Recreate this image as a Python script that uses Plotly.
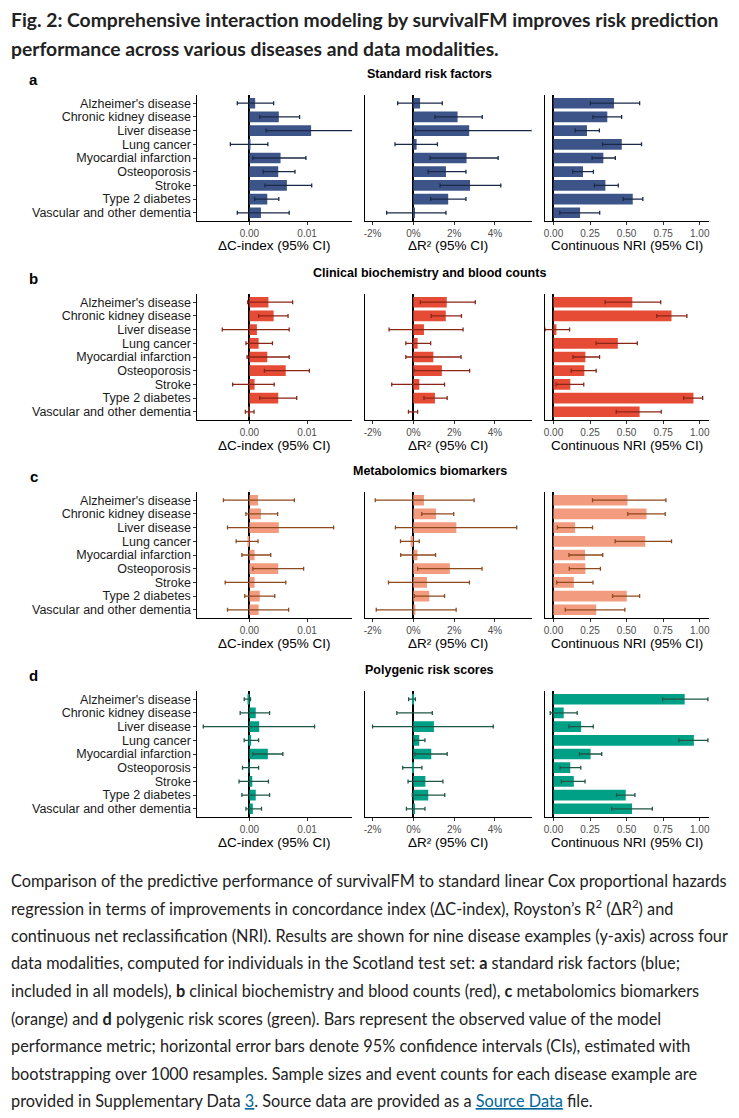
import plotly.graph_objects as go

W, H = 739, 1118
OFF = 8  # page body margin in the browser

diseases = ["Alzheimer's disease", "Chronic kidney disease", "Liver disease", "Lung cancer",
            "Myocardial infarction", "Osteoporosis", "Stroke", "Type 2 diabetes",
            "Vascular and other dementia"]

panel_letters = ["a", "b", "c", "d"]
panel_titles = ["Standard risk factors", "Clinical biochemistry and blood counts",
                "Metabolomics biomarkers", "Polygenic risk scores"]
metric_titles = ["ΔC-index (95% CI)", "ΔR² (95% CI)", "Continuous NRI (95% CI)"]

bar_colors = ["#3C5488", "#E64B35", "#F39B7F", "#00A087"]
err_colors = ["#1B2A48", "#8A2617", "#8E4A1C", "#1F5747"]

# ---- a: standard risk factors ----
a_c = [0.0010, 0.0051, 0.0107, 0.0001, 0.0054, 0.0050, 0.0065, 0.0031, 0.0020]
a_c_lo = [-0.0021, 0.0018, 0.0029, -0.0033, 0.0006, 0.0024, 0.0027, 0.0009, -0.0021]
a_c_hi = [0.0042, 0.0087, 0.0190, 0.0032, 0.0098, 0.0079, 0.0108, 0.0051, 0.0069]
a_r = [0.33, 2.17, 2.74, 0.16, 2.61, 1.60, 2.78, 1.71, 0.05]
a_r_lo = [-0.77, 1.06, 0.10, -0.90, 0.82, 0.73, 1.31, 0.85, -1.31]
a_r_hi = [1.42, 3.38, 5.84, 1.18, 4.16, 2.58, 4.29, 2.58, 1.60]
a_n = [0.414, 0.368, 0.229, 0.467, 0.341, 0.202, 0.355, 0.542, 0.182]
a_n_lo = [0.252, 0.270, 0.148, 0.336, 0.264, 0.132, 0.280, 0.477, 0.043]
a_n_hi = [0.589, 0.466, 0.314, 0.602, 0.423, 0.273, 0.443, 0.611, 0.316]

# ---- b: clinical biochemistry and blood counts ----
b_c = [0.0033, 0.0042, 0.0013, 0.0016, 0.0031, 0.0063, 0.0009, 0.0050, -0.0001]
b_c_lo = [-0.0003, 0.0016, -0.0047, -0.0006, -0.0004, 0.0026, -0.0029, 0.0018, -0.0007]
b_c_hi = [0.0075, 0.0067, 0.0069, 0.0040, 0.0069, 0.0104, 0.0043, 0.0082, 0.0008]
b_r = [1.64, 1.59, 0.52, 0.21, 0.98, 1.40, 0.29, 1.06, 0.00]
b_r_lo = [0.34, 0.88, -1.19, -0.37, -0.37, 0.03, -1.06, 0.52, -0.24]
b_r_hi = [3.04, 2.36, 2.44, 0.85, 2.34, 2.76, 1.53, 1.66, 0.21]
b_n = [0.539, 0.807, 0.020, 0.440, 0.218, 0.211, 0.115, 0.957, 0.589]
b_n_lo = [0.353, 0.706, -0.058, 0.292, 0.133, 0.121, 0.018, 0.890, 0.429]
b_n_hi = [0.733, 0.912, 0.110, 0.573, 0.315, 0.292, 0.207, 1.020, 0.737]

# ---- c: metabolomics biomarkers ----
c_c = [0.0015, 0.0020, 0.0051, -0.0002, 0.0009, 0.0050, 0.0009, 0.0018, 0.0016]
c_c_lo = [-0.0045, -0.0006, -0.0038, -0.0023, -0.0013, 0.0006, -0.0042, -0.0008, -0.0038]
c_c_hi = [0.0078, 0.0049, 0.0146, 0.0015, 0.0037, 0.0094, 0.0063, 0.0044, 0.0068]
c_r = [0.52, 1.11, 2.11, -0.13, 0.20, 1.79, 0.67, 0.78, 0.10]
c_r_lo = [-1.87, 0.41, -0.88, -0.63, -0.62, 0.21, -1.22, 0.05, -1.82]
c_r_hi = [2.98, 1.98, 5.07, 0.29, 1.09, 3.37, 2.75, 1.53, 2.10]
c_n = [0.506, 0.636, 0.148, 0.627, 0.216, 0.218, 0.139, 0.501, 0.292]
c_n_lo = [0.267, 0.508, 0.027, 0.422, 0.106, 0.108, 0.022, 0.404, 0.081]
c_n_hi = [0.769, 0.764, 0.267, 0.807, 0.337, 0.321, 0.270, 0.589, 0.488]

# ---- d: polygenic risk scores ----
d_c = [-0.0002, 0.0011, 0.0017, 0.0003, 0.0032, -0.0001, 0.0005, 0.0011, 0.0006]
d_c_lo = [-0.0009, -0.0016, -0.0080, -0.0009, 0.0006, -0.0012, -0.0018, -0.0013, -0.0006]
d_c_hi = [0.0002, 0.0035, 0.0113, 0.0016, 0.0058, 0.0016, 0.0033, 0.0035, 0.0021]
d_r = [-0.05, 0.00, 1.01, 0.29, 0.88, -0.02, 0.59, 0.73, 0.08]
d_r_lo = [-0.23, -0.81, -2.00, 0.03, 0.07, -0.52, -0.26, -0.05, -0.34]
d_r_hi = [0.10, 0.93, 3.92, 0.57, 1.66, 0.42, 1.45, 1.54, 0.57]
d_n = [0.897, 0.070, 0.189, 0.960, 0.254, 0.115, 0.139, 0.494, 0.537]
d_n_lo = [0.746, -0.022, 0.106, 0.858, 0.178, 0.045, 0.054, 0.431, 0.398]
d_n_hi = [1.056, 0.162, 0.272, 1.056, 0.330, 0.187, 0.216, 0.557, 0.676]

panels = [
    [(a_c, a_c_lo, a_c_hi), (a_r, a_r_lo, a_r_hi), (a_n, a_n_lo, a_n_hi)],
    [(b_c, b_c_lo, b_c_hi), (b_r, b_r_lo, b_r_hi), (b_n, b_n_lo, b_n_hi)],
    [(c_c, c_c_lo, c_c_hi), (c_r, c_r_lo, c_r_hi), (c_n, c_n_lo, c_n_hi)],
    [(d_c, d_c_lo, d_c_hi), (d_r, d_r_lo, d_r_hi), (d_n, d_n_lo, d_n_hi)],
]

c_ticks = [0.0, 0.01]
c_ticktext = ["0.00", "0.01"]
r_ticks = [-2, 0, 2, 4]
r_ticktext = ["-2%", "0%", "2%", "4%"]
n_ticks = [0.0, 0.25, 0.5, 0.75, 1.0]
n_ticktext = ["0.00", "0.25", "0.50", "0.75", "1.00"]

x_ranges = [[-0.009, 0.0178], [-2.37, 5.8], [-0.061, 1.064]]
tick_sets = [(c_ticks, c_ticktext), (r_ticks, r_ticktext), (n_ticks, n_ticktext)]

col_px = [(197, 352), (365, 532), (545, 710)]
tops = [95, 294, 492, 691]
ph = 126


def fx(p):
    return (p - OFF) / W


def fy(p):
    return 1 - (p - OFF) / H


fig = go.Figure()
layout = {}
annotations = []
CHART_FONT = "Liberation Sans, Arial, sans-serif"

n = 0
for pi in range(4):
    for mi in range(3):
        n += 1
        vals, lo, hi = panels[pi][mi]
        xa = "x" if n == 1 else f"x{n}"
        ya = "y" if n == 1 else f"y{n}"
        fig.add_trace(go.Bar(
            x=vals, y=diseases, orientation="h",
            xaxis=xa, yaxis=ya,
            marker=dict(color=bar_colors[pi], line=dict(width=0)),
            width=0.78,
            error_x=dict(type="data", symmetric=False,
                         array=[h - v for v, h in zip(vals, hi)],
                         arrayminus=[v - l for v, l in zip(vals, lo)],
                         color=err_colors[pi], thickness=1.3, width=2),
            showlegend=False, hoverinfo="skip",
        ))
        x0, x1 = col_px[mi]
        top = tops[pi]
        xkey = "xaxis" if n == 1 else f"xaxis{n}"
        ykey = "yaxis" if n == 1 else f"yaxis{n}"
        tv, tt = tick_sets[mi]
        layout[xkey] = dict(
            domain=[fx(x0), fx(x1)], anchor=ya, range=x_ranges[mi],
            showline=True, linecolor="black", linewidth=1.2,
            ticks="outside", ticklen=3, tickcolor="#333333", tickwidth=1,
            tickvals=tv, ticktext=tt,
            tickfont=dict(size=10, color="#4D4D4D", family=CHART_FONT),
            showgrid=False, zeroline=True, zerolinecolor="black", zerolinewidth=1.6,
            fixedrange=True,
        )
        layout[ykey] = dict(
            domain=[fy(top + ph), fy(top)], anchor=xa,
            type="category", categoryorder="array", categoryarray=diseases,
            tickmode="array", tickvals=diseases, ticktext=diseases,
            range=[8.6, -0.6],
            showline=True, linecolor="black", linewidth=1.2,
            ticks="outside" if mi == 0 else "", ticklen=3, tickcolor="#333333",
            showticklabels=(mi == 0),
            tickfont=dict(size=12.5, color="#1A1A1A", family=CHART_FONT),
            showgrid=False, zeroline=False, fixedrange=True,
        )
        annotations.append(dict(
            text=metric_titles[mi], x=fx((x0 + x1) / 2), y=fy(top + ph + 25),
            xref="paper", yref="paper", xanchor="center", yanchor="middle",
            showarrow=False, font=dict(size=13.5, color="black", family=CHART_FONT),
        ))
    annotations.append(dict(
        text="<b>" + panel_titles[pi] + "</b>", x=fx(430), y=fy(tops[pi] - 21),
        xref="paper", yref="paper", xanchor="center", yanchor="middle",
        showarrow=False, font=dict(size=12.5, color="black", family=CHART_FONT),
    ))
    annotations.append(dict(
        text="<b>" + panel_letters[pi] + "</b>", x=fx(33), y=fy(tops[pi] - 16),
        xref="paper", yref="paper", xanchor="center", yanchor="middle",
        showarrow=False, font=dict(size=15, color="black", family=CHART_FONT),
    ))

TEXT_FONT = "Lato, Open Sans, sans-serif"
title_lines = [
    "Fig. 2: Comprehensive interaction modeling by survivalFM improves risk prediction",
    "performance across various diseases and data modalities.",
]
for i, t in enumerate(title_lines):
    annotations.append(dict(
        text="<b>" + t + "</b>", x=fx(8), y=fy(19 + 29 * i),
        xref="paper", yref="paper", xanchor="left", yanchor="middle",
        showarrow=False, font=dict(size=19.3, color="#222222", family=TEXT_FONT),
    ))

link = "<span style='color:#006699;text-decoration:underline'>{}</span>"
caption_lines = [
    "Comparison of the predictive performance of survivalFM to standard linear Cox proportional hazards",
    "regression in terms of improvements in concordance index (ΔC-index), Royston’s R<sup>2</sup> (ΔR<sup>2</sup>) and",
    "continuous net reclassification (NRI). Results are shown for nine disease examples (y-axis) across four",
    "data modalities, computed for individuals in the Scotland test set: <b>a</b> standard risk factors (blue;",
    "included in all models), <b>b</b> clinical biochemistry and blood counts (red), <b>c</b> metabolomics biomarkers",
    "(orange) and <b>d</b> polygenic risk scores (green). Bars represent the observed value of the model",
    "performance metric; horizontal error bars denote 95% confidence intervals (CIs), estimated with",
    "bootstrapping over 1000 resamples. Sample sizes and event counts for each disease example are",
    "provided in Supplementary Data " + link.format("3") + ". Source data are provided as a "
    + link.format("Source Data") + " file.",
]
for i, t in enumerate(caption_lines):
    annotations.append(dict(
        text=t, x=fx(8), y=fy(880 + 27.6 * i),
        xref="paper", yref="paper", xanchor="left", yanchor="middle",
        showarrow=False, font=dict(size=16.3, color="#222222", family=TEXT_FONT),
    ))

fig.update_layout(
    width=W, height=H,
    margin=dict(l=0, r=0, t=0, b=0),
    paper_bgcolor="white", plot_bgcolor="white",
    bargap=0.2, annotations=annotations,
    font=dict(family=CHART_FONT),
    **layout,
)

fig.write_html("out.html", config={"displayModeBar": False})
